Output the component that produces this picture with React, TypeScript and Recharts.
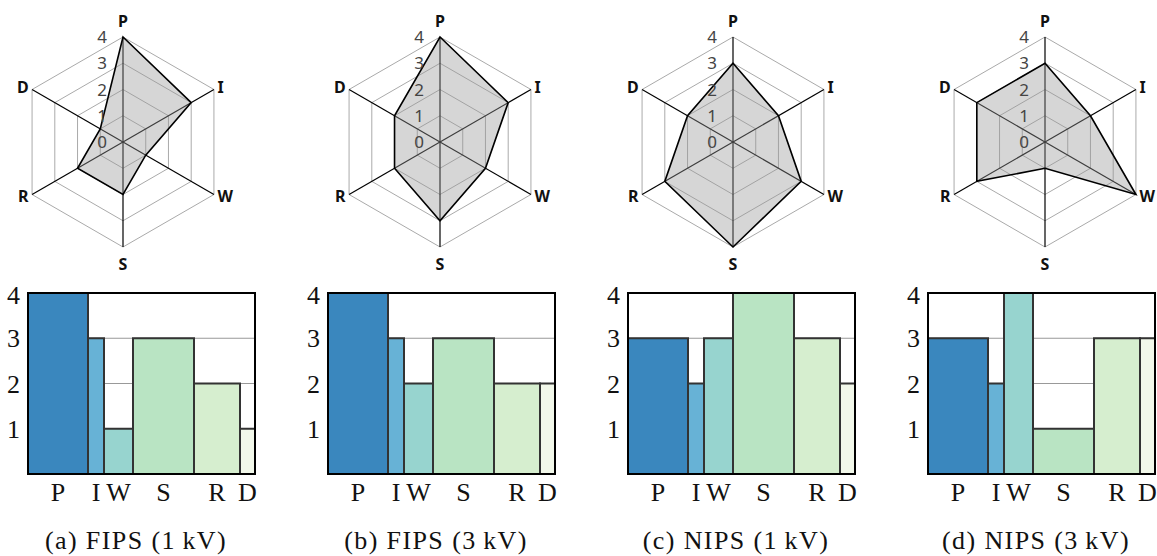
import React from "react";
import {
  ComposedChart,
  Line,
  XAxis,
  YAxis,
  CartesianGrid,
  ReferenceArea,
  RadarChart,
  Radar,
  PolarGrid,
  PolarAngleAxis,
  PolarRadiusAxis,
} from "recharts";

const AXES = ["P", "I", "W", "S", "R", "D"];
const BAR_WEIGHTS = [60, 16, 29, 61, 46, 15];
const BAR_COLORS = ["#3a87be", "#67b2d6", "#97d4cf", "#b9e4c3", "#d6eecf", "#f2f8ea"];
const Y_TICKS = [1, 2, 3, 4];
const RADIUS_TICKS = [0, 1, 2, 3, 4];

const radarFips1 = [4, 3, 1, 2, 2, 1];
const radarFips3 = [4, 3, 2, 3, 2, 2];
const radarNips1 = [3, 2, 3, 4, 3, 2];
const radarNips3 = [3, 2, 4, 1, 3, 3];

const barsFips1 = [4, 3, 1, 3, 2, 1];
const barsFips3 = [4, 3, 2, 3, 2, 2];
const barsNips1 = [3, 2, 3, 4, 3, 2];
const barsNips3 = [3, 2, 4, 1, 3, 3];

const CAPTIONS = [
  "(a) FIPS (1\u2009kV)",
  "(b) FIPS (3\u2009kV)",
  "(c) NIPS (1\u2009kV)",
  "(d) NIPS (3\u2009kV)",
];

const SERIF = "'Liberation Serif', 'DejaVu Serif', serif";
const SANS = "'Noto Sans', 'Open Sans', sans-serif";

// radar centres are not evenly spaced in the original figure
const RADAR_CX = [123, 140, 133, 145];

const panels = [
  { radar: radarFips1, bars: barsFips1 },
  { radar: radarFips3, bars: barsFips3 },
  { radar: radarNips1, bars: barsNips1 },
  { radar: radarNips3, bars: barsNips3 },
];

function renderAngleTick(p: any) {
  const a = Math.round(p.payload.coordinate);
  const dy = a === 90 ? -6.5 : a === -90 ? 18.5 : 5.7;
  return (
    <text
      x={p.x}
      y={p.y}
      dy={dy}
      textAnchor={p.textAnchor}
      fontFamily={SANS}
      fontWeight={700}
      fontSize={16}
      fill="#111"
    >
      {p.payload.value}
    </text>
  );
}

function renderRadiusTick(p: any) {
  return (
    <text
      x={p.x - 16}
      y={p.y}
      dy={6}
      textAnchor="end"
      fontFamily={SANS}
      fontSize={17}
      fill="#444"
    >
      {p.payload.value}
    </text>
  );
}

function Spider({ values, left, cx }: { values: number[]; left: number; cx: number }) {
  const rows = AXES.map((k, i) => ({ axis: k, value: values[i] }));
  return (
    <div style={{ position: "absolute", left, top: 0 }}>
      <RadarChart
        width={290}
        height={280}
        data={rows}
        cx={cx}
        cy={142}
        outerRadius={105}
        margin={{ top: 0, right: 0, bottom: 0, left: 0 }}
      >
        <PolarGrid gridType="polygon" radialLines={false} stroke="#aaa" strokeWidth={1} />
        <PolarGrid polarRadius={[]} radialLines stroke="#000" strokeWidth={1.2} />
        <PolarAngleAxis dataKey="axis" axisLine={false} tickLine={false} tickSize={4} tick={renderAngleTick} />
        <PolarRadiusAxis
          angle={90}
          domain={[0, 4]}
          ticks={RADIUS_TICKS as any}
          tickCount={5}
          axisLine={false}
          tickLine={false}
          tick={renderRadiusTick}
        />
        <Radar
          dataKey="value"
          stroke="#000"
          strokeWidth={1.6}
          fill="#999"
          fillOpacity={0.4}
          dot={false}
          isAnimationActive={false}
        />
      </RadarChart>
    </div>
  );
}

function MosaicBars({ values, left }: { values: number[]; left: number }) {
  let acc = 0;
  const rows = AXES.map((k, i) => {
    const x0 = acc;
    acc += BAR_WEIGHTS[i];
    return { label: k, x0, x1: acc, mid: (x0 + acc) / 2, value: values[i], color: BAR_COLORS[i] };
  });
  const total = acc;
  const tickFont = { fontFamily: SERIF, fontSize: 26, fill: "#111" };

  return (
    <div style={{ position: "absolute", left, top: 280 }}>
      <ComposedChart width={270} height={230} data={rows} margin={{ top: 13, right: 15, bottom: 6, left: 0 }}>
        <CartesianGrid vertical={false} stroke="#999" strokeWidth={1.2} />
        <XAxis
          type="number"
          dataKey="mid"
          domain={[0, total]}
          ticks={rows.map((r) => r.mid)}
          tickFormatter={(v: number) => rows.find((r) => Math.abs(r.mid - v) < 1e-6)?.label ?? ""}
          interval={0}
          axisLine={false}
          tickLine={false}
          tickMargin={3}
          tick={tickFont}
        />
        <YAxis
          type="number"
          domain={[0, 4]}
          ticks={Y_TICKS}
          width={28}
          axisLine={false}
          tickLine={false}
          tick={tickFont}
        />
        {rows.map((r) => (
          <ReferenceArea
            key={r.label}
            x1={r.x0}
            x2={r.x1}
            y1={0}
            y2={r.value}
            fill={r.color}
            fillOpacity={1}
            stroke="#333"
            strokeWidth={2}
            ifOverflow="visible"
          />
        ))}
        <ReferenceArea
          x1={0}
          x2={total}
          y1={0}
          y2={4}
          fill="none"
          stroke="#000"
          strokeWidth={2}
          ifOverflow="visible"
        />
        <Line dataKey="value" stroke="none" dot={false} activeDot={false} isAnimationActive={false} />
      </ComposedChart>
    </div>
  );
}

export default function App() {
  return (
    <div style={{ position: "absolute", left: 0, top: 0, width: 1157, height: 556, background: "#fff" }}>
      {panels.map((p, i) => (
        <React.Fragment key={i}>
          <Spider values={p.radar} left={300 * i} cx={RADAR_CX[i]} />
          <MosaicBars values={p.bars} left={300 * i} />
        </React.Fragment>
      ))}
      <svg width={1157} height={556} style={{ position: "absolute", left: 0, top: 0, pointerEvents: "none" }}>
        {CAPTIONS.map((c, i) => (
          <text
            key={c}
            x={136 + 300 * i}
            y={549}
            textAnchor="middle"
            fontFamily={SERIF}
            fontSize={26}
            letterSpacing={1.4}
            fill="#111"
          >
            {c}
          </text>
        ))}
      </svg>
    </div>
  );
}
